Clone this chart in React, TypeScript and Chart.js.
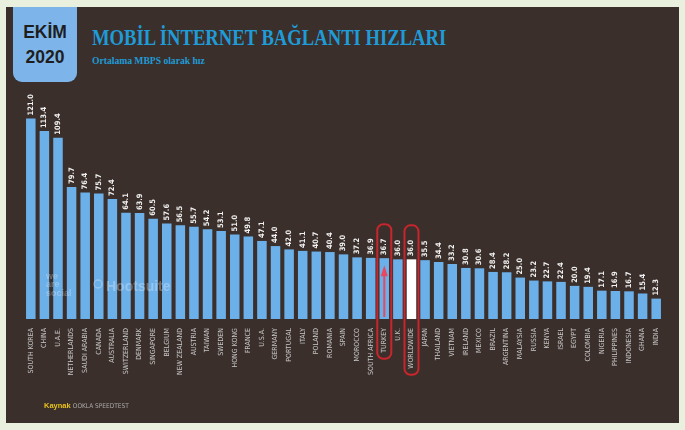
import React, { useEffect, useRef } from 'react';
import { Chart, registerables } from 'chart.js';

Chart.register(...registerables);

const countries = [
  'SOUTH KOREA', 'CHINA', 'U.A.E.', 'NETHERLANDS', 'SAUDI ARABIA', 'CANADA', 'AUSTRALIA',
  'SWITZERLAND', 'DENMARK', 'SINGAPORE', 'BELGIUM', 'NEW ZEALAND', 'AUSTRIA', 'TAIWAN',
  'SWEDEN', 'HONG KONG', 'FRANCE', 'U.S.A.', 'GERMANY', 'PORTUGAL', 'ITALY', 'POLAND',
  'ROMANIA', 'SPAIN', 'MOROCCO', 'SOUTH AFRICA', 'TURKEY', 'U.K.', 'WORLDWIDE', 'JAPAN',
  'THAILAND', 'VIETNAM', 'IRELAND', 'MEXICO', 'BRAZIL', 'ARGENTINA', 'MALAYSIA', 'RUSSIA',
  'KENYA', 'ISRAEL', 'EGYPT', 'COLOMBIA', 'NIGERIA', 'PHILIPPINES', 'INDONESIA', 'GHANA', 'INDIA',
];

const speeds = [
  121.0, 113.4, 109.4, 79.7, 76.4, 75.7, 72.4,
  64.1, 63.9, 60.5, 57.6, 56.5, 55.7, 54.2,
  53.1, 51.0, 49.8, 47.1, 44.0, 42.0, 41.1, 40.7,
  40.4, 39.0, 37.2, 36.9, 36.7, 36.0, 36.0, 35.5,
  34.4, 33.2, 30.8, 30.6, 28.4, 28.2, 25.0, 23.2,
  22.7, 22.4, 20.0, 19.4, 17.1, 16.9, 16.7, 15.4, 12.3,
];

const highlighted = ['TURKEY', 'WORLDWIDE'];
const whiteBar = 'WORLDWIDE';
const arrowBar = 'TURKEY';

const titleText = 'MOBİL İNTERNET BAĞLANTI HIZLARI';
const subtitleText = 'Ortalama MBPS olarak hız';
const badgeMonth = 'EKİM';
const badgeYear = '2020';
const sourceLabel = 'Kaynak';
const sourceName = 'OOKLA SPEEDTEST';

const BAR_BLUE = '#6cb0ea';
const PANEL = '#3a2f2b';
const NARROW = '"Liberation Sans Narrow", "DejaVu Sans Condensed", "DejaVu Sans", sans-serif';
const TICK_FONT_SIZE = 7;
const TICK_PAD = 9;

const overlayPlugin = {
  id: 'overlay',
  afterDatasetsDraw(chart: any) {
    const ctx = chart.ctx as CanvasRenderingContext2D;
    const meta = chart.getDatasetMeta(0);
    const xs = chart.scales.x;
    ctx.save();

    // faint watermarks
    ctx.fillStyle = 'rgba(255,255,255,0.28)';
    ctx.font = 'bold 9px "Liberation Sans", sans-serif';
    ctx.textAlign = 'left';
    ctx.textBaseline = 'alphabetic';
    ctx.fillText('we', 46, 279);
    ctx.fillText('are', 46, 287);
    ctx.fillText('social', 46, 296);
    ctx.font = 'bold 14px "Liberation Sans", sans-serif';
    ctx.fillText('Hootsuite', 106, 291);
    ctx.strokeStyle = 'rgba(255,255,255,0.28)';
    ctx.lineWidth = 1.5;
    ctx.beginPath();
    ctx.arc(98, 284, 4, 0, Math.PI * 2);
    ctx.stroke();

    // arrow inside the Turkey bar
    const ai = countries.indexOf(arrowBar);
    if (ai >= 0) {
      const b = meta.data[ai];
      const tipY = b.y + 7;
      const baseY = b.base - 2;
      ctx.strokeStyle = '#e8475e';
      ctx.fillStyle = '#e8475e';
      ctx.lineWidth = 2;
      ctx.beginPath();
      ctx.moveTo(b.x, baseY);
      ctx.lineTo(b.x, tipY + 8);
      ctx.stroke();
      ctx.beginPath();
      ctx.moveTo(b.x, tipY);
      ctx.lineTo(b.x - 3.5, tipY + 11);
      ctx.lineTo(b.x + 3.5, tipY + 11);
      ctx.closePath();
      ctx.fill();
    }

    // value labels
    ctx.fillStyle = '#f0f0f0';
    ctx.font = `bold 7.5px ${NARROW}`;
    meta.data.forEach((bar: any, i: number) => {
      ctx.save();
      ctx.translate(bar.x, bar.y - 3);
      ctx.rotate(-Math.PI / 2);
      ctx.textAlign = 'left';
      ctx.textBaseline = 'middle';
      ctx.fillText(speeds[i].toFixed(1), 0, 0);
      ctx.restore();
    });

    // red highlight frames
    ctx.font = `${TICK_FONT_SIZE}px ${NARROW}`;
    ctx.strokeStyle = '#c9252d';
    ctx.lineWidth = 2;
    highlighted.forEach((name) => {
      const i = countries.indexOf(name);
      if (i < 0) return;
      const bar = meta.data[i];
      const w = 14;
      const top = bar.y - 34;
      const bottom = xs.top + TICK_PAD + ctx.measureText(name).width + 6;
      ctx.beginPath();
      (ctx as any).roundRect(bar.x - w / 2, top, w, bottom - top, 6);
      ctx.stroke();
    });

    ctx.restore();
  },
};

export default function App() {
  const ref = useRef<HTMLCanvasElement | null>(null);

  useEffect(() => {
    if (!ref.current) return;
    const chart = new Chart(ref.current, {
      type: 'bar',
      data: {
        labels: countries,
        datasets: [
          {
            data: speeds,
            backgroundColor: countries.map((c) => (c === whiteBar ? '#ffffff' : BAR_BLUE)),
            borderWidth: 0,
            barPercentage: 0.7,
            categoryPercentage: 1,
          },
        ],
      },
      options: {
        animation: false,
        responsive: false,
        layout: { padding: { top: 87, left: 24, right: 22, bottom: 0 } },
        plugins: { legend: { display: false }, tooltip: { enabled: false }, title: { display: false } },
        scales: {
          y: { display: false, min: 0, max: 140 },
          x: {
            grid: { display: false, drawTicks: false },
            border: { display: false },
            ticks: {
              autoSkip: false,
              minRotation: 90,
              maxRotation: 90,
              padding: TICK_PAD,
              color: '#c8c8c8',
              font: { family: NARROW, size: TICK_FONT_SIZE },
            },
            afterFit: (scale: any) => {
              scale.height = 111;
            },
          },
        },
      },
      plugins: [overlayPlugin],
    });
    return () => chart.destroy();
  }, []);

  return (
    <div style={{ position: 'fixed', left: 0, top: 0, width: 685, height: 430, background: '#e9f0de', overflow: 'hidden' }}>
      <div style={{ position: 'absolute', left: 6, top: 7, width: 673, height: 416, background: PANEL }} />
      <div style={{ position: 'absolute', left: 13, top: 7, width: 64, height: 75, background: '#7db5ea', borderRadius: '0 0 9px 9px' }} />
      <div style={{ position: 'absolute', left: 13, top: 22, width: 64, textAlign: 'center', fontFamily: '"Liberation Sans", Arial, sans-serif', fontWeight: 'bold', fontSize: 17.5, lineHeight: '20px', color: '#1e1e1e' }}>{badgeMonth}</div>
      <div style={{ position: 'absolute', left: 13, top: 47, width: 64, textAlign: 'center', fontFamily: '"Liberation Sans", Arial, sans-serif', fontWeight: 'bold', fontSize: 17.5, lineHeight: '20px', color: '#1e1e1e' }}>{badgeYear}</div>
      <div style={{ position: 'absolute', left: 92, top: 26, whiteSpace: 'nowrap', fontFamily: '"Liberation Serif", "Times New Roman", serif', fontWeight: 'bold', fontSize: 23, lineHeight: '23px', color: '#1f9bd7', transform: 'scaleX(0.81)', transformOrigin: 'left top' }}>{titleText}</div>
      <div style={{ position: 'absolute', left: 92, top: 55, whiteSpace: 'nowrap', fontFamily: '"Liberation Serif", "Times New Roman", serif', fontWeight: 'bold', fontSize: 9.6, lineHeight: '11px', color: '#1f9bd7' }}>{subtitleText}</div>
      <canvas ref={ref} width={685} height={430} style={{ position: 'absolute', left: 0, top: 0, width: 685, height: 430 }} />
      <div style={{ position: 'absolute', left: 44, top: 401, whiteSpace: 'nowrap', fontFamily: '"Liberation Sans", Arial, sans-serif', fontSize: 7.5, lineHeight: '9px' }}>
        <span style={{ color: '#e8c31d', fontWeight: 'bold' }}>{sourceLabel}</span>{' '}
        <span style={{ color: '#a9a9a9', fontFamily: NARROW, fontSize: 6.5 }}>{sourceName}</span>
      </div>
    </div>
  );
}
